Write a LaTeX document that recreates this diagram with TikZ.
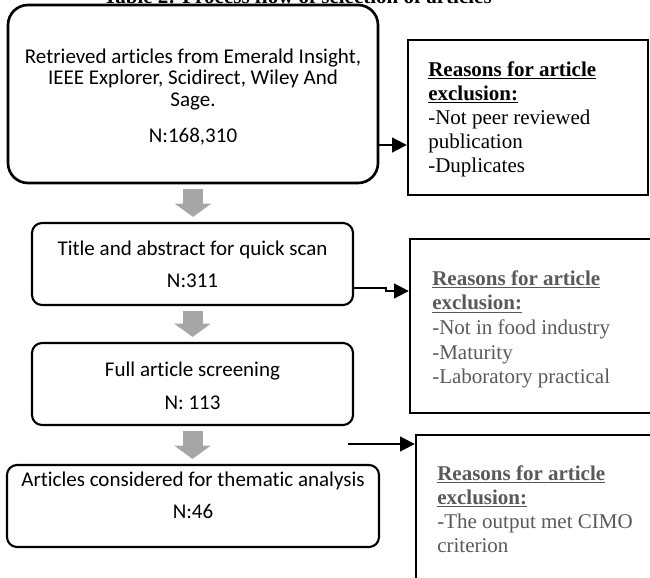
\documentclass[tikz,border=0pt]{standalone}
\usepackage{fontspec}
\setmainfont{Carlito}[Ligatures=NoCommon]
\newfontfamily\serifrm{Liberation Serif}
\usetikzlibrary{arrows.meta}
\definecolor{blockgray}{RGB}{166,166,166}
\definecolor{exclgray}{RGB}{89,89,89}
\begin{document}
\begin{tikzpicture}[x=0.75pt,y=-0.75pt,
  flowbox/.style={draw, line width=1.6pt, rounded corners=7.5pt, align=center, inner sep=0pt,
    font=\fontsize{15.75}{16.1}\selectfont},
  flowtext/.style={align=center, inner sep=0pt, font=\fontsize{15.75}{16.1}\selectfont},
  exclbox/.style={draw, line width=1.8pt, inner sep=0pt},
  excltext/.style={align=left, inner sep=0pt, anchor=west, font=\serifrm\fontsize{15.75}{18}\selectfont},
  thinarrow/.style={line width=1.5pt, -{Triangle[length=11pt,width=11pt]}},
  blockarrow/.style={draw=blockgray, line width=15pt, -{Triangle[length=10pt,width=27pt,fill=blockgray]},
    shorten <=3.75pt, shorten >=3.75pt}
]
\useasboundingbox (0,0) rectangle (650,578);
\clip (0,0) rectangle (650,578);

% title (cut off at the top, as in the reference)
\node[anchor=base west, inner sep=0pt, font=\serifrm\bfseries\fontsize{15.75}{18}\selectfont]
  (title) at (103,3) {Table 2: Process flow of selection of articles};

% main flow boxes
\node[flowbox, rounded corners=15pt, line width=2pt, minimum width=277.5pt, minimum height=133.5pt]
  (b1) at (193,94) {};
\node[flowtext] (t1) at (193,97) {Retrieved articles from Emerald Insight,\\ IEEE Explorer, Scidirect, Wiley And\\ Sage.\\[11pt] N:168,310};
\node[flowbox, minimum width=240.75pt, minimum height=61.5pt]
  (b2) at (192.5,264) {Title and abstract for quick scan\\[8pt] N:311};
\node[flowbox, minimum width=240.75pt, minimum height=61.5pt]
  (b3) at (192.5,384) {};
\node[flowtext] (t3) at (192.5,386) {Full article screening\\[8.6pt] N: 113};
\node[flowbox, minimum width=279pt, minimum height=61.5pt]
  (b4) at (193,506) {};
\node[flowtext] (t4) at (193,495) {Articles considered for thematic analysis\\[8pt] N:46};

% exclusion boxes
\node[exclbox, minimum width=180pt, minimum height=116.25pt] (e1) at (528,117.5) {};
\node[exclbox, minimum width=187.5pt, minimum height=130.5pt] (e2) at (535,326) {};
\node[exclbox, minimum width=187.5pt, minimum height=138.75pt] (e3) at (541,527.5) {};

\node[excltext] (x1) at (428,119) {\textbf{\underline{Reasons for article}}\\ \textbf{\underline{exclusion:}}\\ -Not peer reviewed\\ publication\\ -Duplicates};
\node[excltext, text=exclgray, font=\serifrm\fontsize{15.75}{18.5}\selectfont] (x2) at (432,329.5)
  {\textbf{\underline{Reasons for article}}\\ \textbf{\underline{exclusion:}}\\ -Not in food industry\\ -Maturity\\ -Laboratory practical};
\node[excltext, text=exclgray] (x3) at (437,509)
  {\textbf{\underline{Reasons for article}}\\ \textbf{\underline{exclusion:}}\\ -The output met CIMO\\ criterion};

% grey block arrows
\draw[blockarrow] (b1.south) -- (b1.south |- b2.north);
\draw[blockarrow] (b2.south) -- (b3.north);
\draw[blockarrow] (b3.south) -- (b3.south |- b4.north);

% thin arrows to exclusion boxes
\draw[thinarrow] ([yshift=-38.25pt]b1.east) -- ([yshift=-38.25pt]b1.east -| e1.west);
\draw[thinarrow] ([yshift=-18pt]b2.east) -- ++(32,0) -- ++(0,3) coordinate (j2) -- (j2 -| e2.west);
\coordinate (a3) at (348,444);
\draw[thinarrow] (a3) -- (a3 -| e3.west);
\end{tikzpicture}
\end{document}
